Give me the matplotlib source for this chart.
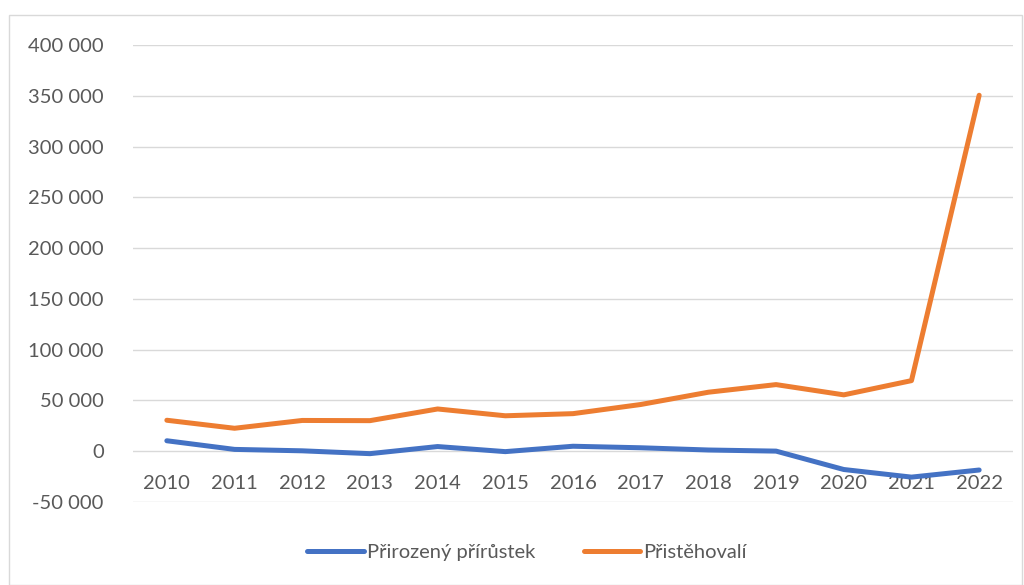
import matplotlib.pyplot as plt
from matplotlib.patches import Rectangle
from matplotlib.ticker import FuncFormatter
import numpy as np

years = [2010, 2011, 2012, 2013, 2014, 2015, 2016, 2017, 2018, 2019, 2020, 2021, 2022]
prirustek = [10300, 1800, 400, -2400, 4600, -400, 4900, 3400, 1200, 100, -18000, -25500, -18500]
pristehovali = [30500, 22600, 30300, 30100, 41600, 34900, 37000, 46000, 58100, 65600, 55500, 69500, 350500]

blue = '#4472C4'
orange = '#ED7D31'
txt = '#595959'
grid = '#D9D9D9'
fs = 14.5

plt.rcParams['font.family'] = ['Lato', 'DejaVu Sans']

fig = plt.figure(figsize=(10.24, 5.85), dpi=100)
ax = fig.add_axes([133/1024, 1 - 502/585, (1013-133)/1024, (502-45)/585])

x = np.arange(len(years))
ax.plot(x, prirustek, color=blue, lw=3.6, solid_capstyle='round', label='Přirozený přírůstek')
ax.plot(x, pristehovali, color=orange, lw=3.6, solid_capstyle='round', label='Přistěhovalí')

ax.set_xlim(-0.5, len(years) - 0.5)
ax.set_ylim(-50000, 400000)
ax.set_yticks(np.arange(-50000, 400001, 50000))
ax.yaxis.set_major_formatter(FuncFormatter(lambda v, p: f'{int(v):,}'.replace(',', ' ')))
ax.grid(axis='y', color=grid, lw=1)
ax.set_axisbelow(True)
for s in ['top', 'right', 'left']:
    ax.spines[s].set_visible(False)
ax.spines['bottom'].set_position(('data', 0))
ax.spines['bottom'].set_visible(False)
ax.set_xticks(x)
ax.set_xticklabels([str(y) for y in years])
ax.tick_params(axis='x', length=0, pad=17, labelsize=fs, colors=txt)
ax.tick_params(axis='y', length=0, pad=21, labelsize=fs, colors=txt)

leg = fig.legend(loc='center', bbox_to_anchor=(527/1024, 1 - 552/585), ncol=2, frameon=False,
                 fontsize=fs, handlelength=2.8, handletextpad=0.15, columnspacing=2.4)
for t in leg.get_texts():
    t.set_color(txt)

fig.patches.append(Rectangle((9/1024, 0), 1013/1024, 1 - 15/585, transform=fig.transFigure,
                             fill=False, edgecolor='#D9D9D9', lw=1))

fig.savefig('out.png', dpi=100)
